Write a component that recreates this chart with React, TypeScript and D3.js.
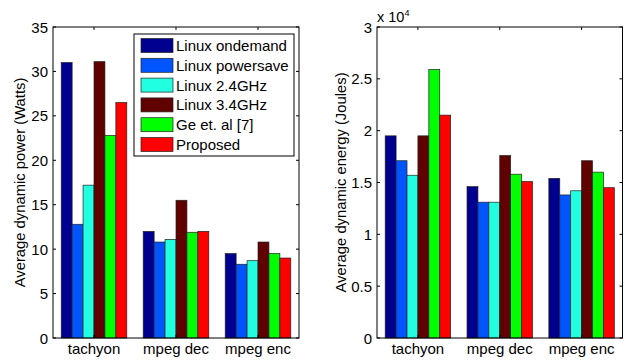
import * as d3 from 'd3'
import { useEffect, useRef } from 'react'

const categories = ['tachyon', 'mpeg dec', 'mpeg enc']
const series = ['Linux ondemand', 'Linux powersave', 'Linux 2.4GHz', 'Linux 3.4GHz', 'Ge et. al [7]', 'Proposed']
const colors = ['#000090', '#0055ff', '#20ffe0', '#600000', '#00ff00', '#ff0000']

// rows = categories, columns = series
const powerWatts = [
  [31.0, 12.8, 17.2, 31.1, 22.8, 26.5],
  [12.0, 10.8, 11.1, 15.5, 11.9, 12.0],
  [9.5, 8.3, 8.7, 10.8, 9.5, 9.0],
]
// in units of 10^4 Joules
const energyJoules = [
  [1.95, 1.71, 1.57, 1.95, 2.59, 2.15],
  [1.46, 1.31, 1.31, 1.76, 1.58, 1.51],
  [1.54, 1.38, 1.42, 1.71, 1.60, 1.45],
]
const powerTicks = [0, 5, 10, 15, 20, 25, 30, 35]
const energyTicks = [0, 0.5, 1, 1.5, 2, 2.5, 3]

const FONT = '"Liberation Sans", Arial, sans-serif'
const FS = 15

const App = () => {
  const svgRef = useRef<SVGSVGElement>(null)

  useEffect(() => {
    const svg = d3.select(svgRef.current)
    svg.selectAll('*').remove()

    const top = 27
    const bottom = 338

    const drawPanel = (
      left: number,
      right: number,
      data: number[][],
      maxY: number,
      ticks: number[],
      label: string,
      labelX: number,
    ) => {
      const g = svg.append('g')
      const x = d3.scaleLinear([0.5, 3.5], [left, right])
      const y = d3.scaleLinear([0, maxY], [bottom, top])
      const unit = x(2) - x(1)
      const groupW = unit * 0.8
      const inner = d3.scaleBand<number>().domain(d3.range(series.length)).range([-groupW / 2, groupW / 2])

      data.forEach((row, ci) => {
        g.selectAll(null)
          .data(row)
          .join('rect')
          .attr('x', (_, si) => x(ci + 1) + inner(si)!)
          .attr('y', d => y(d))
          .attr('width', inner.bandwidth())
          .attr('height', d => y(0) - y(d))
          .attr('fill', (_, si) => colors[si])
          .attr('stroke', '#222')
          .attr('stroke-width', 0.7)
      })

      // box
      g.append('rect')
        .attr('x', left).attr('y', top)
        .attr('width', right - left).attr('height', bottom - top)
        .attr('fill', 'none').attr('stroke', '#000').attr('stroke-width', 1)

      const tl = 3
      ticks.forEach(t => {
        const yy = y(t)
        g.append('line').attr('x1', left).attr('x2', left + tl).attr('y1', yy).attr('y2', yy).attr('stroke', '#000')
        g.append('line').attr('x1', right).attr('x2', right - tl).attr('y1', yy).attr('y2', yy).attr('stroke', '#000')
        g.append('text')
          .attr('x', left - 5).attr('y', yy)
          .attr('text-anchor', 'end').attr('dominant-baseline', 'central')
          .attr('font-family', FONT).attr('font-size', FS)
          .text(String(t))
      })
      categories.forEach((c, ci) => {
        const xx = x(ci + 1)
        g.append('line').attr('x1', xx).attr('x2', xx).attr('y1', bottom).attr('y2', bottom - tl).attr('stroke', '#000')
        g.append('line').attr('x1', xx).attr('x2', xx).attr('y1', top).attr('y2', top + tl).attr('stroke', '#000')
        g.append('text')
          .attr('x', xx).attr('y', 354)
          .attr('text-anchor', 'middle')
          .attr('font-family', FONT).attr('font-size', FS)
          .text(c)
      })

      g.append('text')
        .attr('transform', `translate(${labelX},${(top + bottom) / 2}) rotate(-90)`)
        .attr('text-anchor', 'middle').attr('dominant-baseline', 'central')
        .attr('font-family', FONT).attr('font-size', 14.8)
        .text(label)
      return g
    }

    drawPanel(53, 299, powerWatts, 35, powerTicks, 'Average dynamic power (Watts)', 20)
    const g2 = drawPanel(377, 622.5, energyJoules, 3, energyTicks, 'Average dynamic energy (Joules)', 341)

    const exp = g2.append('text')
      .attr('x', 377).attr('y', 22)
      .attr('font-family', FONT).attr('font-size', 14.5)
    exp.append('tspan').text('x 10')
    exp.append('tspan').attr('font-size', 9).attr('dy', -6).text('4')

    // legend
    const lg = svg.append('g')
    lg.append('rect')
      .attr('x', 134).attr('y', 34).attr('width', 160).attr('height', 122)
      .attr('fill', '#fff').attr('stroke', '#000').attr('stroke-width', 1)
    series.forEach((s, i) => {
      const cy = 45.5 + i * 19.8
      lg.append('rect')
        .attr('x', 141).attr('y', cy - 7).attr('width', 32).attr('height', 14)
        .attr('fill', colors[i]).attr('stroke', '#222').attr('stroke-width', 0.7)
      lg.append('text')
        .attr('x', 176).attr('y', cy)
        .attr('dominant-baseline', 'central')
        .attr('font-family', FONT).attr('font-size', FS)
        .text(s)
    })
  }, [])

  return (
    <svg
      ref={svgRef}
      width={631}
      height={360}
      viewBox="0 0 631 360"
      style={{ position: 'absolute', left: 0, top: 0, background: '#fff' }}
    />
  )
}

export default App
